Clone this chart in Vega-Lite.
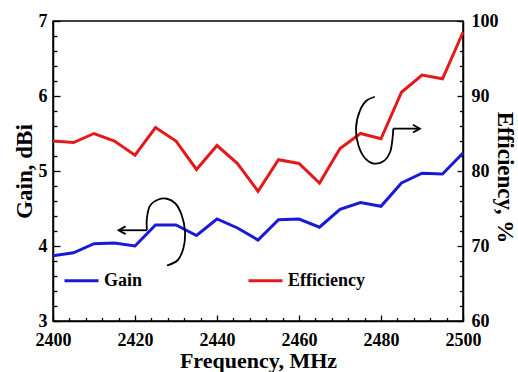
{
  "$schema": "https://vega.github.io/schema/vega-lite/v6.json",
  "width": 410,
  "height": 300,
  "autosize": {"type": "none"},
  "padding": {"left": 53, "top": 21, "right": 55, "bottom": 51},
  "background": "white",
  "config": {
    "font": "Liberation Serif",
    "view": {"stroke": "black", "strokeWidth": 1.5},
    "axis": {
      "grid": false,
      "domainColor": "black",
      "domainWidth": 1.5,
      "tickColor": "black",
      "tickWidth": 1.3,
      "labelFont": "Liberation Serif",
      "labelFontWeight": "bold",
      "labelFontSize": 18,
      "labelColor": "black",
      "labelFlush": false,
      "labelOverlap": false,
      "titleFont": "Liberation Serif",
      "titleFontWeight": "bold",
      "titleFontSize": 23,
      "titleColor": "black"
    }
  },
  "datasets": {
    "gain": [
      {"f": 2400, "v": 3.87}, {"f": 2405, "v": 3.91}, {"f": 2410, "v": 4.03},
      {"f": 2415, "v": 4.04}, {"f": 2420, "v": 4.0}, {"f": 2425, "v": 4.28},
      {"f": 2430, "v": 4.28}, {"f": 2435, "v": 4.14}, {"f": 2440, "v": 4.36},
      {"f": 2445, "v": 4.24}, {"f": 2450, "v": 4.08}, {"f": 2455, "v": 4.35},
      {"f": 2460, "v": 4.36}, {"f": 2465, "v": 4.25}, {"f": 2470, "v": 4.49},
      {"f": 2475, "v": 4.58}, {"f": 2480, "v": 4.53}, {"f": 2485, "v": 4.84},
      {"f": 2490, "v": 4.97}, {"f": 2495, "v": 4.96}, {"f": 2500, "v": 5.24}
    ],
    "eff": [
      {"f": 2400, "v": 84.0}, {"f": 2405, "v": 83.8}, {"f": 2410, "v": 85.0},
      {"f": 2415, "v": 84.0}, {"f": 2420, "v": 82.1}, {"f": 2425, "v": 85.8},
      {"f": 2430, "v": 84.0}, {"f": 2435, "v": 80.2}, {"f": 2440, "v": 83.4},
      {"f": 2445, "v": 81.0}, {"f": 2450, "v": 77.3}, {"f": 2455, "v": 81.5},
      {"f": 2460, "v": 81.0}, {"f": 2465, "v": 78.4}, {"f": 2470, "v": 83.0},
      {"f": 2475, "v": 85.0}, {"f": 2480, "v": 84.3}, {"f": 2485, "v": 90.5},
      {"f": 2490, "v": 92.8}, {"f": 2495, "v": 92.3}, {"f": 2500, "v": 98.5}
    ],
    "curlG": [
      {"i": 0, "f": 2422.9, "v": 4.21}, {"i": 1, "f": 2422.9, "v": 4.37},
      {"i": 2, "f": 2423.7, "v": 4.54}, {"i": 3, "f": 2425.7, "v": 4.62},
      {"i": 4, "f": 2427.8, "v": 4.63}, {"i": 5, "f": 2429.8, "v": 4.57},
      {"i": 6, "f": 2431.4, "v": 4.41}, {"i": 7, "f": 2432.2, "v": 4.19},
      {"i": 8, "f": 2431.8, "v": 3.97}, {"i": 9, "f": 2430.4, "v": 3.81},
      {"i": 10, "f": 2427.8, "v": 3.74}
    ],
    "shaftG": [{"f": 2422.9, "f2": 2416.2, "v": 4.21}],
    "tipG": [{"f": 2416.0, "v": 4.21}],
    "curlE": [
      {"i": 0, "f": 2478.5, "v": 89.9}, {"i": 1, "f": 2476.5, "v": 89.4},
      {"i": 2, "f": 2474.9, "v": 88.1}, {"i": 3, "f": 2473.9, "v": 85.7},
      {"i": 4, "f": 2474.5, "v": 83.4}, {"i": 5, "f": 2476.1, "v": 81.7},
      {"i": 6, "f": 2478.1, "v": 81.0}, {"i": 7, "f": 2480.6, "v": 81.3},
      {"i": 8, "f": 2482.2, "v": 82.5}, {"i": 9, "f": 2482.8, "v": 84.3},
      {"i": 10, "f": 2483.0, "v": 85.65}
    ],
    "shaftE": [{"f": 2483.0, "f2": 2489.3, "v": 85.65}],
    "tipE": [{"f": 2489.5, "v": 85.65}]
  },
  "encoding": {
    "x": {
      "field": "f",
      "type": "quantitative",
      "scale": {"domain": [2400, 2500], "nice": false, "zero": false},
      "axis": {
        "title": "Frequency, MHz",
        "titleFontSize": 22,
        "format": "d",
        "values": [2400, 2404, 2408, 2412, 2416, 2420, 2424, 2428, 2432, 2436, 2440, 2444, 2448, 2452, 2456, 2460, 2464, 2468, 2472, 2476, 2480, 2484, 2488, 2492, 2496, 2500],
        "labelExpr": "datum.value % 20 === 0 ? format(datum.value, 'd') : ''",
        "tickSize": {"condition": {"test": "datum.value % 20 === 0", "value": -6}, "value": -3.5},
        "labelPadding": 16,
        "titlePadding": -1
      }
    }
  },
  "layer": [
    {
      "encoding": {
        "y": {
          "field": "v",
          "type": "quantitative",
          "scale": {"domain": [3, 7], "nice": false, "zero": false},
          "axis": {
            "orient": "left",
            "title": "Gain, dBi",
            "values": [3, 3.2, 3.4, 3.6, 3.8, 4, 4.2, 4.4, 4.6, 4.8, 5, 5.2, 5.4, 5.6, 5.8, 6, 6.2, 6.4, 6.6, 6.8, 7],
            "labelExpr": "datum.value % 1 === 0 ? format(datum.value, 'd') : ''",
            "tickSize": {"condition": {"test": "datum.value % 1 === 0", "value": -7}, "value": -4},
            "labelPadding": 13,
            "titlePadding": 2
          }
        }
      },
      "layer": [
        {
          "data": {"name": "gain"},
          "mark": {"type": "line", "strokeWidth": 3},
          "encoding": {
            "color": {
              "datum": "Gain",
              "type": "nominal",
              "scale": {"domain": ["Gain", "Efficiency"], "range": ["#1a1ad6", "#e31a1c"]},
              "legend": {
                "title": null,
                "orient": "none",
                "legendX": 10,
                "legendY": 241,
                "direction": "horizontal",
                "symbolType": "stroke",
                "symbolSize": 1156,
                "symbolStrokeWidth": 3,
                "labelFont": "Liberation Serif",
                "labelFontSize": 18,
                "labelFontWeight": "bold",
                "labelColor": "black",
                "labelOffset": 4,
                "columnPadding": 99,
                "padding": 0
              }
            }
          }
        },
        {
          "data": {"name": "curlG"},
          "mark": {"type": "line", "color": "black", "strokeWidth": 1.8, "interpolate": "catmull-rom"},
          "encoding": {"order": {"field": "i", "type": "quantitative"}}
        },
        {
          "data": {"name": "shaftG"},
          "mark": {"type": "rule", "color": "black", "strokeWidth": 1.8},
          "encoding": {"x2": {"field": "f2"}}
        },
        {
          "data": {"name": "tipG"},
          "mark": {"type": "point", "shape": "M1,-0.55L0,0L1,0.55", "size": 196, "filled": false, "color": "black", "strokeWidth": 1.8, "opacity": 1}
        }
      ]
    },
    {
      "encoding": {
        "y": {
          "field": "v",
          "type": "quantitative",
          "scale": {"domain": [60, 100], "nice": false, "zero": false},
          "axis": {
            "orient": "right",
            "title": "Efficiency, %",
            "values": [60, 62, 64, 66, 68, 70, 72, 74, 76, 78, 80, 82, 84, 86, 88, 90, 92, 94, 96, 98, 100],
            "labelExpr": "datum.value % 10 === 0 ? format(datum.value, 'd') : ''",
            "tickSize": {"condition": {"test": "datum.value % 10 === 0", "value": -6}, "value": -3.5},
            "labelPadding": 14,
            "titlePadding": -6,
            "titleY": 156
          }
        }
      },
      "layer": [
        {
          "data": {"name": "eff"},
          "mark": {"type": "line", "strokeWidth": 3},
          "encoding": {"color": {"datum": "Efficiency", "type": "nominal"}}
        },
        {
          "data": {"name": "curlE"},
          "mark": {"type": "line", "color": "black", "strokeWidth": 1.8, "interpolate": "catmull-rom"},
          "encoding": {"order": {"field": "i", "type": "quantitative"}}
        },
        {
          "data": {"name": "shaftE"},
          "mark": {"type": "rule", "color": "black", "strokeWidth": 1.8},
          "encoding": {"x2": {"field": "f2"}}
        },
        {
          "data": {"name": "tipE"},
          "mark": {"type": "point", "shape": "M-1,-0.55L0,0L-1,0.55", "size": 196, "filled": false, "color": "black", "strokeWidth": 1.8, "opacity": 1}
        }
      ]
    }
  ],
  "resolve": {"scale": {"y": "independent"}}
}
